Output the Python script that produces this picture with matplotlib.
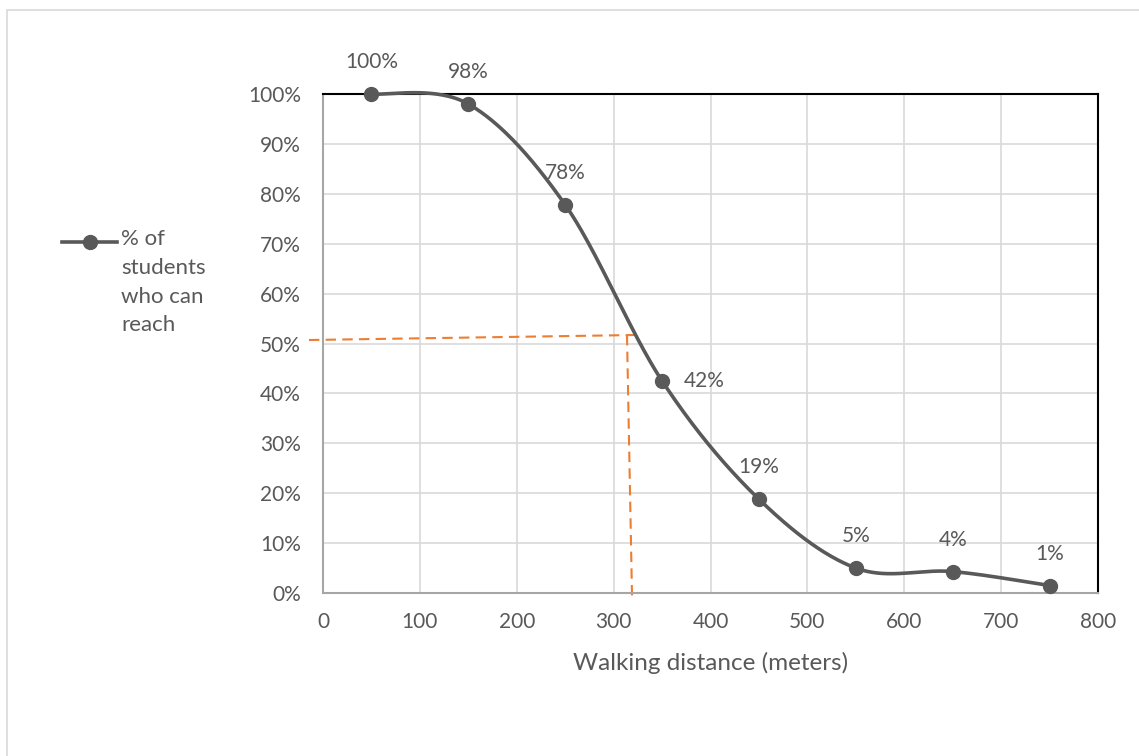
import numpy as np
import matplotlib
matplotlib.use("Agg")
import matplotlib.pyplot as plt
from matplotlib.patches import Rectangle

# ---- data ----
distance = [50, 150, 250, 350, 450, 550, 650, 750]
pct_reach = [100, 98, 77.8, 42.5, 18.8, 5.0, 4.3, 1.5]
point_labels = ["100%", "98%", "78%", "42%", "19%", "5%", "4%", "1%"]
x_ticks = [0, 100, 200, 300, 400, 500, 600, 700, 800]
y_ticks = [0, 10, 20, 30, 40, 50, 60, 70, 80, 90, 100]
series_name = "% of\nstudents\nwho can\nreach"
x_title = "Walking distance (meters)"
# guide lines (hand drawn shapes in original)
guide_h = ([-14.5, 322], [50.7, 51.7])
guide_v = ([313.8, 319], [51.7, -0.8])

plt.rcParams['font.family'] = ['Lato', 'DejaVu Sans']
TXT = '#595959'
LINE = '#595959'

fig = plt.figure(figsize=(11.39, 7.56), dpi=100)
fig.patch.set_facecolor('white')
# chart border
fig.add_artist(Rectangle((7/1139, -0.01), 1.2, 1 - 10/756 + 0.01, transform=fig.transFigure,
                         fill=False, edgecolor='#d9d9d9', lw=1.2))

ax = fig.add_axes([323/1139, 1-593/756, 775/1139, 499/756])
ax.set_xlim(0, 800)
ax.set_ylim(0, 100)
ax.set_xticks(x_ticks)
ax.set_yticks(y_ticks)
ax.set_xticklabels([str(v) for v in x_ticks])
ax.set_yticklabels([f"{v}%" for v in y_ticks])
ax.tick_params(length=0, labelsize=15, labelcolor=TXT)
ax.tick_params(axis='x', pad=14)
ax.tick_params(axis='y', pad=16)
ax.grid(True, color='#d9d9d9', lw=1.2)
ax.set_axisbelow(True)
for s in ['top', 'right']:
    ax.spines[s].set_color('black')
    ax.spines[s].set_linewidth(1.5)
for s in ['left', 'bottom']:
    ax.spines[s].set_color('#a6a6a6')
    ax.spines[s].set_linewidth(1.5)

# Excel-like smoothed line (Catmull-Rom bezier through points)
xs = np.array(distance, float)
ys = np.array(pct_reach, float)
curve_x, curve_y = [], []
t = np.linspace(0, 1, 60)
n = len(xs)
for i in range(n - 1):
    p0 = np.array([xs[max(i-1, 0)], ys[max(i-1, 0)]])
    p1 = np.array([xs[i], ys[i]])
    p2 = np.array([xs[i+1], ys[i+1]])
    p3 = np.array([xs[min(i+2, n-1)], ys[min(i+2, n-1)]])
    c1 = p1 + (p2 - p0) / 6
    c2 = p2 - (p3 - p1) / 6
    b = ((1-t)**3)[:, None]*p1 + (3*(1-t)**2*t)[:, None]*c1 + (3*(1-t)*t**2)[:, None]*c2 + (t**3)[:, None]*p2
    curve_x.extend(b[:, 0]); curve_y.extend(b[:, 1])
ax.plot(curve_x, curve_y, color=LINE, lw=2.6, clip_on=False, zorder=3, solid_capstyle='round')
ax.plot(distance, pct_reach, 'o', color=LINE, ms=10, clip_on=False, zorder=4)

for xv, yv, lab in zip(distance, pct_reach, point_labels):
    if lab == "42%":
        ax.annotate(lab, (xv, yv), xytext=(30, 0), textcoords='offset points',
                    ha='center', va='center', fontsize=15, color=TXT)
    else:
        ax.annotate(lab, (xv, yv), xytext=(0, 23), textcoords='offset points',
                    ha='center', va='center', fontsize=15, color=TXT)

# orange dashed guide lines
ax.plot(*guide_h, color='#ed7d31', lw=1.5, ls=(0, (5, 3)), clip_on=False, zorder=2)
ax.plot(*guide_v, color='#ed7d31', lw=1.5, ls=(0, (5, 3)), clip_on=False, zorder=2)

ax.set_xlabel(x_title, fontsize=17.5, color=TXT, labelpad=14)

# legend
fig.add_artist(plt.Line2D([62/1139, 117/1139], [1-242/756, 1-242/756], color=LINE, lw=2.6))
fig.add_artist(plt.Line2D([90/1139], [1-242/756], marker='o', color=LINE, ms=10))
fig.text(121/1139, 1-229/756, series_name, fontsize=16, color=TXT, va='top', ha='left',
         linespacing=1.55)

fig.savefig('out.png', dpi=100)
